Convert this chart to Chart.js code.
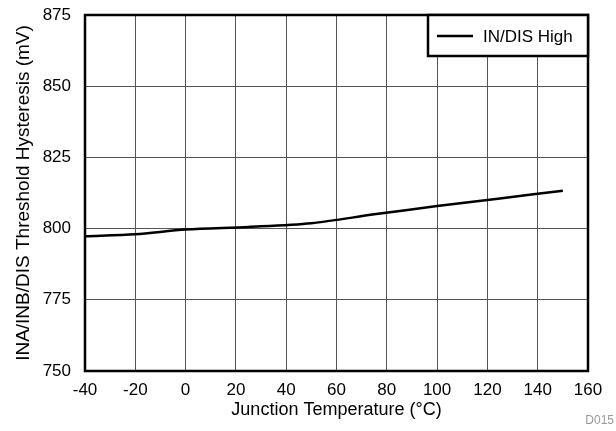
<!DOCTYPE html>
<html>
<head>
<meta charset="utf-8">
<script src="https://cdn.jsdelivr.net/npm/chart.js@4"></script>
<style>
  html, body { margin: 0; padding: 0; background: #fff; }
  #wrap { width: 616px; height: 431px; position: relative; }
</style>
</head>
<body>
<div id="wrap"><canvas id="chart" width="616" height="431"></canvas></div>
<script>
// values
const temps = [-40, -20, 0, 25, 50, 75, 100, 125, 150];
const hystHigh = [797.3, 798.0, 799.7, 800.6, 801.9, 805.0, 807.9, 810.6, 813.3];
const seriesName = 'IN/DIS High';

const xTicks = [-40, -20, 0, 20, 40, 60, 80, 100, 120, 140, 160];
const yTicks = [750, 775, 800, 825, 850, 875];

const FONT = "'Liberation Sans', Arial, Helvetica, sans-serif";

// legend box in the top right corner, plus the D015 tag
const boxLegend = {
    id: 'boxLegend',
    afterDraw(chart) {
        const ctx = chart.ctx;
        const area = chart.chartArea;
        const w = 160, h = 41;
        const x0 = area.right - w, y0 = area.top;
        ctx.save();
        ctx.fillStyle = '#fff';
        ctx.fillRect(x0, y0, w, h);
        ctx.strokeStyle = '#000';
        ctx.lineWidth = 2.5;
        ctx.strokeRect(x0, y0, w, h);
        ctx.beginPath();
        ctx.moveTo(x0 + 9, y0 + 21);
        ctx.lineTo(x0 + 45, y0 + 21);
        ctx.lineWidth = 2.5;
        ctx.stroke();
        ctx.fillStyle = '#000';
        ctx.font = '17px ' + FONT;
        ctx.textBaseline = 'middle';
        ctx.fillText(seriesName, x0 + 55, y0 + 22);

        ctx.fillStyle = '#999';
        ctx.font = '12px ' + FONT;
        ctx.textAlign = 'right';
        ctx.fillText('D015', 614, 421);
        ctx.restore();
    }
};

// redraw the frame on top so it is bold like the original
const frame = {
    id: 'frame',
    afterDatasetsDraw(chart) {
        const a = chart.chartArea;
        const ctx = chart.ctx;
        ctx.save();
        ctx.strokeStyle = '#000';
        ctx.lineWidth = 2.5;
        ctx.strokeRect(a.left, a.top, a.right - a.left, a.bottom - a.top);
        ctx.restore();
    }
};

new Chart(document.getElementById('chart'), {
    type: 'line',
    data: {
        datasets: [{
            label: seriesName,
            data: temps.map((t, i) => ({ x: t, y: hystHigh[i] })),
            borderColor: '#000',
            borderWidth: 2.5,
            pointRadius: 0,
            tension: 0.3,
            fill: false
        }]
    },
    options: {
        responsive: false,
        animation: false,
        layout: { padding: { left: 0, top: 15, right: 28, bottom: 0 } },
        plugins: {
            legend: { display: false },
            tooltip: { enabled: false }
        },
        scales: {
            x: {
                type: 'linear',
                min: -40,
                max: 160,
                afterBuildTicks: s => { s.ticks = xTicks.map(v => ({ value: v })); },
                afterFit: s => { s.height = 60; },
                grid: { color: '#555', lineWidth: 1, drawTicks: false },
                border: { display: false },
                ticks: {
                    color: '#000',
                    padding: 9,
                    maxRotation: 0,
                    font: { family: FONT, size: 17 }
                },
                title: {
                    display: true,
                    text: 'Junction Temperature (°C)',
                    color: '#000',
                    font: { family: FONT, size: 18 },
                    padding: { top: 0, bottom: 10 }
                }
            },
            y: {
                type: 'linear',
                min: 750,
                max: 875,
                afterBuildTicks: s => { s.ticks = yTicks.map(v => ({ value: v })); },
                afterFit: s => {
                    s.width = 85;
                    // keep the label overflow from pushing the plot down
                    s.paddingTop = 0;
                    s.paddingBottom = 0;
                },
                grid: { color: '#555', lineWidth: 1, drawTicks: false },
                border: { display: false },
                ticks: {
                    color: '#000',
                    padding: 14,
                    font: { family: FONT, size: 17 }
                },
                title: {
                    display: true,
                    text: 'INA/INB/DIS Threshold Hysteresis (mV)',
                    color: '#000',
                    font: { family: FONT, size: 19 },
                    padding: { top: 12, bottom: 0 }
                }
            }
        }
    },
    plugins: [frame, boxLegend]
});
</script>
</body>
</html>
